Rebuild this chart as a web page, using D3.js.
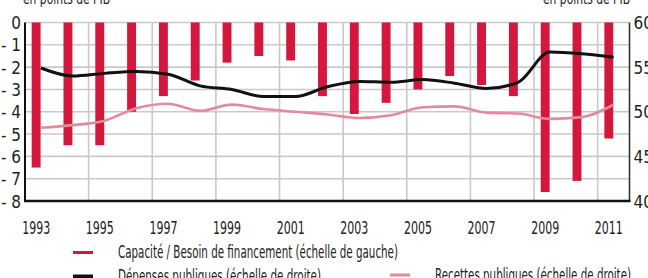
<!DOCTYPE html>
<html>
<head>
<meta charset="utf-8">
<script src="https://cdn.jsdelivr.net/npm/d3@7"></script>
<style>
  body { margin: 0; background: #fff; }
  text { font-family: "Liberation Sans Narrow", "DejaVu Sans Condensed", sans-serif; fill: #222; }
</style>
</head>
<body>
<div id="chart"></div>
<script>
// years on the x axis
const years = d3.range(1993, 2012);
// capacité / besoin de financement, % du PIB (left scale)
const solde = [-6.5, -5.5, -5.5, -4.0, -3.3, -2.6, -1.8, -1.5, -1.7, -3.3,
               -4.1, -3.6, -3.0, -2.4, -2.8, -3.3, -7.6, -7.1, -5.2];
// dépenses publiques, % du PIB (right scale)
const depenses = [54.9, 54.0, 54.3, 54.5, 54.2, 52.9, 52.5, 51.7, 51.7, 52.8,
                  53.4, 53.3, 53.6, 53.2, 52.6, 53.3, 56.7, 56.5, 56.1];
// recettes publiques, % du PIB (right scale)
const recettes = [48.2, 48.5, 49.0, 50.4, 50.9, 50.1, 50.8, 50.3, 50.0, 49.7,
                  49.3, 49.6, 50.5, 50.6, 49.9, 49.8, 49.2, 49.4, 50.8];
const leftTicks = [0, -1, -2, -3, -4, -5, -6, -7, -8];
const rightTicks = [60, 55, 50, 45, 40];
const yearLabels = [1993, 1995, 1997, 1999, 2001, 2003, 2005, 2007, 2009, 2011];

let width = 648;
let height = 278;

let svg = d3.select("#chart")
    .append("svg")
    .attr("width", width)
    .attr("height", height);

let x = d3.scaleBand()
    .domain(years)
    .range([25, 629.5]);
let bw = x.bandwidth();

let yLeft = d3.scaleLinear()
    .domain([-8, 0])
    .range([201, 22.5]);

let yRight = d3.scaleLinear()
    .domain([40, 60])
    .range([201, 22.5]);

// grid
svg.append("g")
    .selectAll("line")
    .data(leftTicks)
    .enter()
    .append("line")
    .attr("x1", 25)
    .attr("x2", 629.5)
    .attr("y1", d => yLeft(d))
    .attr("y2", d => yLeft(d))
    .attr("stroke", "#c9c9c9")
    .attr("stroke-width", 1.6);

svg.append("g")
    .selectAll("line")
    .data(years.filter((d, i) => i % 2 == 0))
    .enter()
    .append("line")
    .attr("x1", d => x(d))
    .attr("x2", d => x(d))
    .attr("y1", 22.5)
    .attr("y2", 201)
    .attr("stroke", "#c9c9c9")
    .attr("stroke-width", 1.6);

// bars
svg.append("g")
    .selectAll("rect")
    .data(years)
    .enter()
    .append("rect")
    .attr("x", d => x(d) + bw * 0.21)
    .attr("width", bw * 0.28)
    .attr("y", yLeft(0))
    .attr("height", (d, i) => yLeft(solde[i]) - yLeft(0))
    .attr("fill", "#d4173d");

// lines
let line = d3.line()
    .x(d => x(d[0]) + bw / 2)
    .y(d => yRight(d[1]))
    .curve(d3.curveMonotoneX);

svg.append("path")
    .datum(years.map((d, i) => [d, recettes[i]]))
    .attr("d", line)
    .attr("fill", "none")
    .attr("stroke", "#e38b9c")
    .attr("stroke-width", 2.6);

svg.append("path")
    .datum(years.map((d, i) => [d, depenses[i]]))
    .attr("d", line)
    .attr("fill", "none")
    .attr("stroke", "#111")
    .attr("stroke-width", 3);

// axis lines
svg.append("line")
    .attr("x1", 25).attr("x2", 25)
    .attr("y1", 22.5).attr("y2", 201)
    .attr("stroke", "#111").attr("stroke-width", 2);
svg.append("line")
    .attr("x1", 629.5).attr("x2", 629.5)
    .attr("y1", 22.5).attr("y2", 201)
    .attr("stroke", "#333").attr("stroke-width", 1.6);
svg.append("line")
    .attr("x1", 24).attr("x2", 630.5)
    .attr("y1", 201).attr("y2", 201)
    .attr("stroke", "#111").attr("stroke-width", 2.6);

// tick labels
let axL = svg.append("g")
    .attr("transform", "translate(25,0)")
    .call(d3.axisLeft(yLeft).tickValues(leftTicks).tickSize(0).tickPadding(4)
        .tickFormat(d => d == 0 ? "0" : "- " + Math.abs(d)));
axL.select(".domain").remove();
axL.selectAll("text").attr("font-size", 17).attr("dy", "0.36em").attr("fill", "#222");

let axR = svg.append("g")
    .attr("transform", "translate(629.5,0)")
    .call(d3.axisRight(yRight).tickValues(rightTicks).tickSize(0).tickPadding(4));
axR.select(".domain").remove();
axR.selectAll("text").attr("font-size", 17).attr("dy", "0.36em").attr("fill", "#222");

let axB = svg.append("g")
    .attr("transform", "translate(0,201)")
    .call(d3.axisBottom(x).tickValues(yearLabels).tickSize(0).tickPadding(21));
axB.select(".domain").remove();
axB.selectAll("text").attr("font-size", 17).attr("dy", "0").attr("fill", "#222")
    .attr("textLength", 28).attr("lengthAdjust", "spacingAndGlyphs");
axB.selectAll(".tick").attr("transform", d => "translate(" + (x(d) + bw * 0.35) + ",12)");

// unit titles
svg.append("text")
    .attr("x", 23).attr("y", 4)
    .attr("font-size", 15)
    .attr("textLength", 87).attr("lengthAdjust", "spacingAndGlyphs")
    .text("en points de PIB");
svg.append("text")
    .attr("x", 543).attr("y", 4)
    .attr("font-size", 15)
    .attr("textLength", 87).attr("lengthAdjust", "spacingAndGlyphs")
    .text("en points de PIB");

// legend
let legend = [
    {label: "Capacité / Besoin de financement (échelle de gauche)", color: "#d4173d", w: 3, x: 73, y: 252.5, len: 280},
    {label: "Dépenses publiques (échelle de droite)", color: "#111", w: 4, x: 73, y: 276.5, len: 203},
    {label: "Recettes publiques (échelle de droite)", color: "#e38b9c", w: 3, x: 390, y: 275, len: 196}
];
let lg = svg.append("g")
    .selectAll("g")
    .data(legend)
    .enter()
    .append("g");
lg.append("line")
    .attr("x1", d => d.x).attr("x2", d => d.x + 20)
    .attr("y1", d => d.y).attr("y2", d => d.y)
    .attr("stroke", d => d.color)
    .attr("stroke-width", d => d.w);
lg.append("text")
    .attr("x", d => d.x + 45)
    .attr("y", d => d.y + 5.5)
    .attr("font-size", 17)
    .attr("textLength", d => d.len)
    .attr("lengthAdjust", "spacingAndGlyphs")
    .text(d => d.label);
</script>
</body>
</html>
